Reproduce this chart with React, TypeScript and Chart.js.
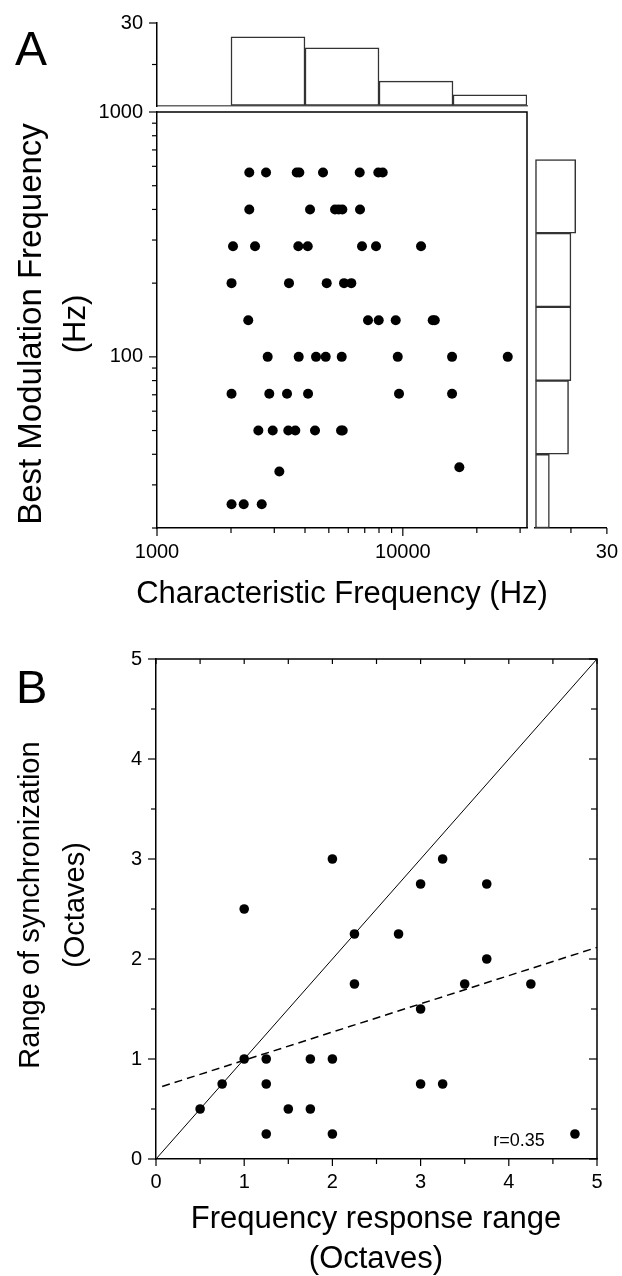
import React, { useEffect, useRef } from "react";
import { Chart, registerables } from "chart.js";

Chart.register(...registerables);

const W = 622;
const H = 1276;
const FONT = '"Liberation Sans", Arial, Helvetica, sans-serif';

// ---------- Panel A data ----------
// Characteristic frequency (Hz) of each unit
const cfHz = [
  2374, 2777, 3701, 3793, 4735, 6677, 7949, 8284,
  2374, 4193, 5299, 5485, 5675, 6696,
  2038, 2505, 3757, 4104, 6823, 7780, 11860,
  2010, 3443, 4902, 5766, 6173,
  2351, 7217, 7980, 9356, 13230, 13490,
  2820, 3771, 4435, 4856, 5642, 9535, 15860, 26720,
  2010, 2863, 3380, 4116, 9650, 15860,
  2584, 2956, 3421, 3653, 4393, 5605, 5696,
  3145, 16980,
  2010, 2253, 2667,
];
// Best modulation frequency (Hz) of each unit
const bmfHz = [
  566, 566, 566, 566, 566, 566, 566, 566,
  400, 400, 400, 400, 400, 400,
  283, 283, 283, 283, 283, 283, 283,
  200, 200, 200, 200, 200,
  141, 141, 141, 141, 141, 141,
  100, 100, 100, 100, 100, 100, 100, 100,
  70.7, 70.7, 70.7, 70.7, 70.7, 70.7,
  50, 50, 50, 50, 50, 50, 50,
  34, 35.4,
  25, 25, 25,
];

// Histogram of characteristic frequency (octave bins)
const cfBinCenters = [2828, 5657, 11314, 22627];
const cfBinEdges = [1000, 2000, 4000, 8000, 16000, 32000];
const cfCounts = [25, 21, 9, 4];

// Histogram of best modulation frequency (octave bins)
const bmfBinCenters = [28.28, 56.57, 113.1, 226.3, 452.5];
const bmfBinEdges = [20, 40, 80, 160, 320, 640];
const bmfCounts = [6, 14, 15, 15, 17];

// Axis ticks for panel A
const cfTicks = [1000, 2000, 3000, 4000, 5000, 6000, 7000, 8000, 9000, 10000, 20000, 30000];
const cfTickLabels = [1000, 10000];
const bmfTicks = [20, 30, 40, 50, 60, 70, 80, 90, 100, 200, 300, 400, 500, 600, 700, 800, 900, 1000];
const bmfTickLabels = [100, 1000];
const countTicks = [0, 15, 30];
const countTickLabels = [30];

// ---------- Panel B data ----------
const frrOct = [
  1, 2, 3.25, 3, 3.75, 2.25, 2.75, 3.75, 2.25, 3.5, 4.25, 3,
  1, 1.25, 1.75, 2, 0.75, 1.25, 3, 3.25, 0.5, 1.5, 1.75, 1.25, 2, 4.75,
];
const rosOct = [
  2.5, 3, 3, 2.75, 2.75, 2.25, 2.25, 2, 1.75, 1.75, 1.75, 1.5,
  1, 1, 1, 1, 0.75, 0.75, 0.75, 0.75, 0.5, 0.5, 0.5, 0.25, 0.25, 0.25,
];
const identityX = [0, 5];
const identityY = [0, 5];
const fitX = [0.07, 5];
const fitY = [0.725, 2.116];
const octTicks = [0, 0.5, 1, 1.5, 2, 2.5, 3, 3.5, 4, 4.5, 5];
const octTickLabels = [0, 1, 2, 3, 4, 5];
const corrLabel = "r=0.35";

// ---------- layout ----------
type Area = { l: number; t: number; r: number; b: number };
const AREA_A: Area = { l: 157, t: 112, r: 527, b: 528 };
const AREA_TOP: Area = { l: 157, t: 23, r: 527, b: 106 };
const AREA_RIGHT: Area = { l: 535, t: 112, r: 608, b: 528 };
const AREA_B: Area = { l: 156, t: 659, r: 597, b: 1159 };

function padFor(a: Area, yW: number, xH: number) {
  return { left: a.l - yW, top: a.t, right: W - a.r, bottom: H - a.b - xH };
}

const tickFont = { family: FONT, size: 20 };

function fixedTicks(values: number[]) {
  return (scale: any) => {
    scale.ticks = values.map((v) => ({ value: v }));
  };
}
function labelOnly(major: number[]) {
  return (v: any) => (major.some((m) => Math.abs(m - Number(v)) < 1e-9) ? String(v) : "");
}

function visibleAxis(
  type: string,
  position: string,
  min: number,
  max: number,
  ticks: number[],
  labels: number[],
  size: number,
  padding: number
) {
  const horizontal = position === "bottom";
  return {
    type,
    position,
    min,
    max,
    offset: false,
    afterBuildTicks: fixedTicks(ticks),
    afterFit: (s: any) => {
      if (horizontal) s.height = size;
      else s.width = size;
    },
    grid: {
      display: true,
      offset: false,
      drawOnChartArea: false,
      drawTicks: true,
      tickLength: 8,
      tickColor: "rgba(0,0,0,0)",
    },
    border: { display: true, color: "#000", width: 1.5 },
    ticks: {
      callback: labelOnly(labels),
      font: tickFont,
      color: "#000",
      padding,
      autoSkip: false,
      maxRotation: 0,
      minRotation: 0,
    },
  };
}

type TickSpec = {
  scale: string;
  edge: "left" | "right" | "top" | "bottom";
  values: number[];
  major: number[];
  majLen: number;
  minLen: number;
  inward: boolean;
};
type TextSpec = { text: string; x: number; y: number; size: number; rotate?: boolean; align?: CanvasTextAlign };

function makeDecor(spec: { box?: boolean; ticks?: TickSpec[]; texts?: TextSpec[] }) {
  return {
    id: "decor",
    afterDraw(chart: any) {
      const ctx: CanvasRenderingContext2D = chart.ctx;
      const ca = chart.chartArea;
      ctx.save();
      if (spec.box) {
        ctx.strokeStyle = "#000";
        ctx.lineWidth = 1.5;
        ctx.beginPath();
        ctx.moveTo(ca.left, ca.top);
        ctx.lineTo(ca.right, ca.top);
        ctx.lineTo(ca.right, ca.bottom);
        ctx.stroke();
      }
      for (const tm of spec.ticks || []) {
        const sc = chart.scales[tm.scale];
        ctx.strokeStyle = "#000";
        ctx.lineWidth = 1.2;
        for (const v of tm.values) {
          const len = tm.major.includes(v) ? tm.majLen : tm.minLen;
          const p = sc.getPixelForValue(v);
          ctx.beginPath();
          if (tm.edge === "left" || tm.edge === "right") {
            const x0 = tm.edge === "left" ? ca.left : ca.right;
            const sign = tm.edge === "left" ? (tm.inward ? 1 : -1) : tm.inward ? -1 : 1;
            ctx.moveTo(x0, p);
            ctx.lineTo(x0 + sign * len, p);
          } else {
            const y0 = tm.edge === "top" ? ca.top : ca.bottom;
            const sign = tm.edge === "top" ? (tm.inward ? 1 : -1) : tm.inward ? -1 : 1;
            ctx.moveTo(p, y0);
            ctx.lineTo(p, y0 + sign * len);
          }
          ctx.stroke();
        }
      }
      ctx.fillStyle = "#000";
      for (const t of spec.texts || []) {
        ctx.font = `${t.size}px ${FONT}`;
        ctx.textAlign = t.align || "center";
        ctx.textBaseline = "alphabetic";
        if (t.rotate) {
          ctx.save();
          ctx.translate(t.x, t.y);
          ctx.rotate(-Math.PI / 2);
          ctx.fillText(t.text, 0, 0);
          ctx.restore();
        } else {
          ctx.fillText(t.text, t.x, t.y);
        }
      }
      ctx.restore();
    },
  };
}

const baseOptions = {
  responsive: false,
  maintainAspectRatio: false,
  animation: false as const,
  devicePixelRatio: 1,
  events: [] as any[],
};
const noPlugins = { legend: { display: false }, tooltip: { enabled: false } };

function topHistConfig() {
  return {
    type: "bar",
    data: {
      datasets: [
        {
          data: cfBinCenters.map((c, i) => ({ x: c, y: cfCounts[i] })),
          backgroundColor: "#fff",
          borderColor: "#333",
          borderWidth: 1.5,
          borderSkipped: false,
          barPercentage: 1,
          categoryPercentage: 1,
        },
      ],
    },
    options: {
      ...baseOptions,
      layout: { padding: padFor(AREA_TOP, 60, 0) },
      plugins: noPlugins,
      scales: {
        x: {
          type: "logarithmic",
          position: "bottom",
          min: 1000,
          max: 32000,
          offset: false,
          afterBuildTicks: fixedTicks(cfBinEdges),
          afterFit: (s: any) => {
            s.height = 0;
          },
          grid: { display: false, offset: false, drawTicks: false },
          ticks: { display: false },
          border: { display: true, color: "#666", width: 1.5 },
        },
        y: visibleAxis("linear", "left", 0, 30, countTicks, countTickLabels, 60, 6),
      },
    },
    plugins: [
      makeDecor({
        ticks: [{ scale: "y", edge: "left", values: [15, 30], major: [30], majLen: 8, minLen: 5, inward: false }],
      }),
    ],
  };
}

function rightHistConfig() {
  return {
    type: "bar",
    data: {
      datasets: [
        {
          data: bmfBinCenters.map((c, i) => ({ y: c, x: bmfCounts[i] })),
          backgroundColor: "#fff",
          borderColor: "#333",
          borderWidth: 1.5,
          borderSkipped: false,
          barPercentage: 1,
          categoryPercentage: 1,
        },
      ],
    },
    options: {
      ...baseOptions,
      indexAxis: "y",
      layout: { padding: padFor(AREA_RIGHT, 0, 40) },
      plugins: noPlugins,
      scales: {
        y: {
          type: "logarithmic",
          position: "left",
          display: false,
          min: 20,
          max: 1000,
          offset: false,
          afterBuildTicks: fixedTicks(bmfBinEdges),
          grid: { display: false, offset: false },
        },
        x: visibleAxis("linear", "bottom", 0, 30, countTicks, countTickLabels, 40, 4),
      },
    },
    plugins: [
      makeDecor({
        ticks: [{ scale: "x", edge: "bottom", values: [15, 30], major: [30], majLen: 6, minLen: 5, inward: false }],
      }),
    ],
  };
}

function scatterAConfig() {
  return {
    type: "scatter",
    data: {
      datasets: [
        {
          data: cfHz.map((x, i) => ({ x, y: bmfHz[i] })),
          pointRadius: 5,
          pointBackgroundColor: "#000",
          pointBorderWidth: 0,
          borderColor: "#000",
        },
      ],
    },
    options: {
      ...baseOptions,
      layout: { padding: padFor(AREA_A, 60, 40) },
      plugins: noPlugins,
      scales: {
        x: visibleAxis("logarithmic", "bottom", 1000, 32000, cfTicks, cfTickLabels, 40, 4),
        y: visibleAxis("logarithmic", "left", 20, 1000, bmfTicks, bmfTickLabels, 60, 6),
      },
    },
    plugins: [
      makeDecor({
        box: true,
        ticks: [
          { scale: "y", edge: "left", values: bmfTicks, major: bmfTickLabels, majLen: 8, minLen: 5, inward: false },
          { scale: "x", edge: "bottom", values: cfTicks, major: cfTickLabels, majLen: 8, minLen: 5, inward: false },
        ],
        texts: [
          { text: "A", x: 15, y: 65, size: 48, align: "left" },
          { text: "Best Modulation Frequency", x: 41, y: 324, size: 33, rotate: true },
          { text: "(Hz)", x: 85, y: 324, size: 31, rotate: true },
          { text: "Characteristic Frequency (Hz)", x: 342, y: 603, size: 31 },
        ],
      }),
    ],
  };
}

function panelBConfig() {
  return {
    type: "scatter",
    data: {
      datasets: [
        {
          data: frrOct.map((x, i) => ({ x, y: rosOct[i] })),
          pointRadius: 4.8,
          pointBackgroundColor: "#000",
          pointBorderWidth: 0,
          borderColor: "#000",
          order: 0,
        },
        {
          data: identityX.map((x, i) => ({ x, y: identityY[i] })),
          showLine: true,
          pointRadius: 0,
          borderColor: "#000",
          borderWidth: 1,
          order: 1,
        },
        {
          data: fitX.map((x, i) => ({ x, y: fitY[i] })),
          showLine: true,
          pointRadius: 0,
          borderColor: "#000",
          borderWidth: 1.5,
          borderDash: [8, 5],
          order: 2,
        },
      ],
    },
    options: {
      ...baseOptions,
      layout: { padding: padFor(AREA_B, 60, 40) },
      plugins: noPlugins,
      scales: {
        x: visibleAxis("linear", "bottom", 0, 5, octTicks, octTickLabels, 40, 3),
        y: visibleAxis("linear", "left", 0, 5, octTicks, octTickLabels, 60, 6),
      },
    },
    plugins: [
      makeDecor({
        box: true,
        ticks: [
          { scale: "y", edge: "left", values: octTicks, major: octTickLabels, majLen: 8, minLen: 5, inward: false },
          { scale: "x", edge: "bottom", values: octTicks, major: octTickLabels, majLen: 7, minLen: 5, inward: false },
          { scale: "y", edge: "right", values: octTicks, major: octTickLabels, majLen: 8, minLen: 6, inward: true },
          { scale: "x", edge: "top", values: octTicks, major: octTickLabels, majLen: 5, minLen: 5, inward: true },
        ],
        texts: [
          { text: "B", x: 16, y: 703, size: 47, align: "left" },
          { text: "Range of synchronization", x: 39, y: 905, size: 29, rotate: true },
          { text: "(Octaves)", x: 84, y: 905, size: 29, rotate: true },
          { text: "Frequency response range", x: 376, y: 1228, size: 31 },
          { text: "(Octaves)", x: 376, y: 1268, size: 31 },
          { text: corrLabel, x: 519, y: 1146, size: 18 },
        ],
      }),
    ],
  };
}

export default function App() {
  const r0 = useRef<HTMLCanvasElement>(null);
  const r1 = useRef<HTMLCanvasElement>(null);
  const r2 = useRef<HTMLCanvasElement>(null);
  const r3 = useRef<HTMLCanvasElement>(null);

  useEffect(() => {
    const refs = [r0, r1, r2, r3];
    const configs = [topHistConfig(), scatterAConfig(), rightHistConfig(), panelBConfig()];
    const charts = configs.map((cfg, i) => new Chart(refs[i].current as HTMLCanvasElement, cfg as any));
    return () => charts.forEach((c) => c.destroy());
  }, []);

  const cs: React.CSSProperties = { position: "absolute", left: 0, top: 0, width: W, height: H };
  return (
    <div style={{ position: "absolute", left: 0, top: 0, width: W, height: H, background: "#fff" }}>
      <canvas ref={r0} width={W} height={H} style={cs} />
      <canvas ref={r1} width={W} height={H} style={cs} />
      <canvas ref={r2} width={W} height={H} style={cs} />
      <canvas ref={r3} width={W} height={H} style={cs} />
    </div>
  );
}
